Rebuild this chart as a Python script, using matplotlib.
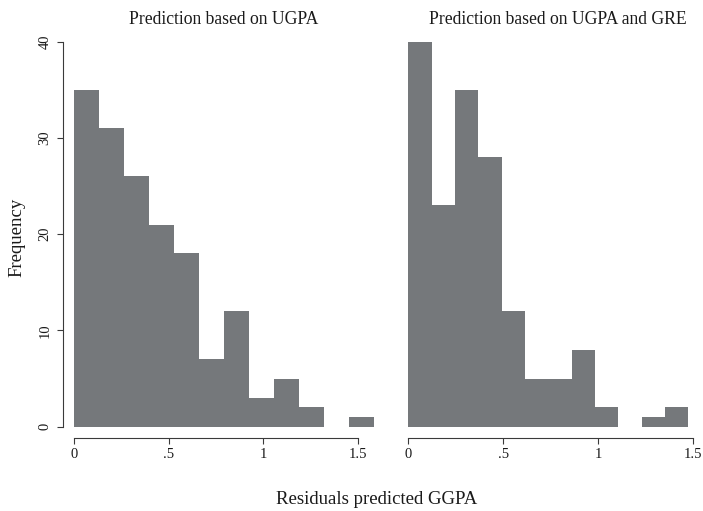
import matplotlib.pyplot as plt

# residual histograms: bin counts for each model
counts_ugpa = [35, 31, 26, 21, 18, 7, 12, 3, 5, 2, 0, 1]
counts_ugpa_gre = [40, 23, 35, 28, 12, 5, 5, 8, 2, 0, 1, 2]
bin_width_ugpa = 0.132
bin_width_ugpa_gre = 0.1228
titles = ["Prediction based on UGPA", "Prediction based on UGPA and GRE"]
xticks = [0, 0.5, 1, 1.5]
xtick_labels = ["0", ".5", "1", "1.5"]
yticks = [0, 10, 20, 30, 40]

BAR = "#75787b"
INK = "#1a1a1a"
AXIS = "#3a3a3a"

plt.rcParams["font.family"] = ["Liberation Serif", "DejaVu Serif"]

fig = plt.figure(figsize=(7.03, 5.11), dpi=100)
ax_left = fig.add_axes([0.0900, 0.1434, 0.4576, 0.775])
ax_right = fig.add_axes([0.5661, 0.1434, 0.4296, 0.775])


def draw_hist(ax, counts, width, title, title_x, xlim, show_y):
    edges = [i * width for i in range(len(counts))]
    ax.bar(edges, counts, width=width, align="edge", color=BAR, linewidth=0)
    ax.set_xlim(*xlim)
    ax.set_ylim(-1.14, 40)
    ax.set_title(title, fontsize=12.7, color=INK, pad=13, x=title_x)

    for side in ("top", "right"):
        ax.spines[side].set_visible(False)
    ax.spines["bottom"].set_bounds(0, 1.5)
    ax.spines["bottom"].set_color(AXIS)
    ax.spines["bottom"].set_linewidth(0.8)
    ax.set_xticks(xticks, xtick_labels)
    ax.tick_params(axis="x", length=4.5, width=0.8, color=AXIS,
                   labelsize=10.5, labelcolor=INK, pad=3)

    if show_y:
        ax.spines["left"].set_bounds(0, 40)
        ax.spines["left"].set_color(AXIS)
        ax.spines["left"].set_linewidth(0.8)
        ax.set_yticks(yticks)
        ax.tick_params(axis="y", length=4.5, width=0.8, color=AXIS,
                       labelsize=10.5, labelcolor=INK, pad=4)
        plt.setp(ax.get_yticklabels(), rotation=90, va="center")
    else:
        ax.spines["left"].set_visible(False)
        ax.set_yticks([])


draw_hist(ax_left, counts_ugpa, bin_width_ugpa, titles[0], 0.5,
          (-0.0565, 1.641), True)
draw_hist(ax_right, counts_ugpa_gre, bin_width_ugpa_gre, titles[1], 0.53,
          (-0.054, 1.535), False)

fig.text(377 / 703, 1 - 500 / 511, "Residuals predicted GGPA",
         ha="center", va="center", fontsize=13.5, color=INK)
fig.text(17 / 703, 1 - 237.5 / 511, "Frequency", ha="center", va="center",
         rotation=90, fontsize=13.5, color=INK)

fig.savefig("out.png", dpi=100)
